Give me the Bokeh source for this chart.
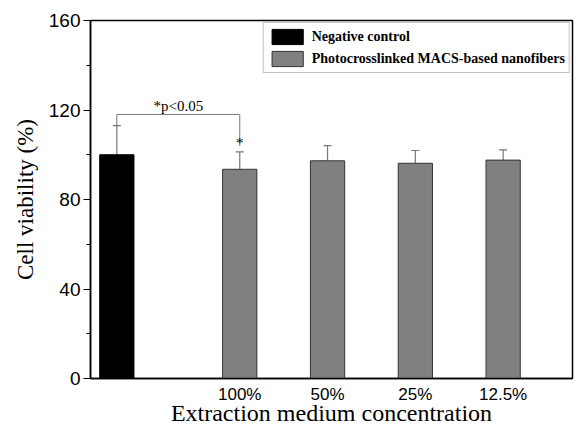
from bokeh.plotting import figure
from bokeh.models import (ColumnDataSource, FixedTicker, Legend, LegendItem, Whisker,
                          TeeHead, Range1d)
from bokeh.embed import file_html
from bokeh.resources import INLINE
from bokeh.core.properties import value

# ---- data ----
control_label = "Negative control"
treated_label = "Photocrosslinked MACS-based nanofibers"
concentrations = ["100%", "50%", "25%", "12.5%"]
control_value = [100.0]
control_err = [13.0]
treated_values = [93.5, 97.3, 96.2, 97.6]
treated_errs = [7.8, 6.8, 5.7, 4.6]
y_ticks = [0, 40, 80, 120, 160]
y_minor_ticks = [20, 60, 100, 140]
significance_text = "*p<0.05"

# ---- positions ----
conc_x = [i + 1 for i in range(len(concentrations))]
control_x = [-0.4]
bar_w = 0.39

ctrl_src = ColumnDataSource(dict(x=control_x, top=control_value,
                                 upper=[v + e for v, e in zip(control_value, control_err)]))
trt_src = ColumnDataSource(dict(x=conc_x, top=treated_values,
                                upper=[v + e for v, e in zip(treated_values, treated_errs)]))

p = figure(width=576, height=428, output_backend="svg", toolbar_location=None,
           x_range=Range1d(-0.70, 4.79), y_range=Range1d(0, 160),
           min_border_left=90, min_border_right=4, min_border_top=20, min_border_bottom=50)
p.xgrid.visible = False
p.ygrid.visible = False
p.outline_line_color = "black"
p.outline_line_width = 1.5
p.background_fill_color = "white"
p.border_fill_color = "white"

r_ctrl = p.vbar(x="x", top="top", width=bar_w, source=ctrl_src,
                fill_color="black", line_color="black", line_width=1)
r_trt = p.vbar(x="x", top="top", width=bar_w, source=trt_src,
               fill_color="#808080", line_color="#333333", line_width=1)

for src in (ctrl_src, trt_src):
    w = Whisker(base="x", lower="top", upper="upper", source=src, dimension="height",
                line_color="#777777", line_width=1.2,
                upper_head=TeeHead(size=8, line_color="#777777", line_width=1.2),
                lower_head=None)
    p.add_layout(w)

# significance bracket
ctrl_top = control_value[0] + control_err[0]
trt_top = treated_values[0] + treated_errs[0]
bracket_y = 118
p.line(x=[control_x[0], control_x[0], conc_x[0], conc_x[0]],
       y=[ctrl_top, bracket_y, bracket_y, trt_top + 2.5],
       line_color="#777777", line_width=1)
p.text(x=[(control_x[0] + conc_x[0]) / 2], y=[bracket_y + 0.3], text=[significance_text],
       text_font=value("Liberation Serif"), text_font_size="15px",
       text_align="center", text_baseline="bottom", text_color="black")
p.text(x=[conc_x[0]], y=[trt_top + 0.3], text=["*"],
       text_font=value("Liberation Serif"), text_font_size="15px",
       text_align="center", text_baseline="bottom", text_color="black")

# y axis
ya = p.yaxis[0]
ya.ticker = FixedTicker(ticks=y_ticks, minor_ticks=y_minor_ticks)
ya.axis_label = "Cell viability (%)"
ya.axis_label_text_font = "Liberation Serif"
ya.axis_label_text_font_size = "23px"
ya.axis_label_text_font_style = "normal"
ya.axis_label_text_color = "black"
ya.axis_label_standoff = 8
ya.major_label_text_font = "Liberation Sans"
ya.major_label_text_font_size = "19px"
ya.major_label_text_color = "black"
ya.major_tick_out = 7
ya.major_tick_in = 0
ya.minor_tick_out = 4
ya.minor_tick_in = 0
ya.axis_line_width = 1.5
ya.axis_line_color = "black"
ya.major_tick_line_color = "black"
ya.minor_tick_line_color = "black"
ya.major_tick_line_width = 1.2
ya.major_label_standoff = 3

# x axis
xa = p.xaxis[0]
xa.ticker = FixedTicker(ticks=conc_x, minor_ticks=[])
xa.major_label_overrides = {x: c for x, c in zip(conc_x, concentrations)}
xa.major_tick_line_color = None
xa.minor_tick_line_color = None
xa.major_tick_out = 0
xa.major_tick_in = 0
xa.axis_label = "Extraction medium concentration"
xa.axis_label_text_font = "Liberation Serif"
xa.axis_label_text_font_size = "24px"
xa.axis_label_text_font_style = "normal"
xa.axis_label_text_color = "black"
xa.axis_label_standoff = -7
xa.major_label_text_font = "Liberation Sans"
xa.major_label_text_font_size = "17px"
xa.major_label_text_color = "black"
xa.major_label_standoff = 6
xa.axis_line_width = 1.5
xa.axis_line_color = "black"

legend = Legend(items=[LegendItem(label=control_label, renderers=[r_ctrl]),
                       LegendItem(label=treated_label, renderers=[r_trt])],
                location="top_right", margin=2, padding=4, spacing=3,
                glyph_width=39, glyph_height=19,
                label_text_font="Liberation Serif", label_text_font_style="bold",
                label_text_font_size="14px", label_standoff=5, label_height=19,
                label_text_color="black",
                border_line_color="#888888", border_line_width=1.5,
                background_fill_alpha=1)
p.add_layout(legend)

open("out.html", "w").write(file_html(p, INLINE))
